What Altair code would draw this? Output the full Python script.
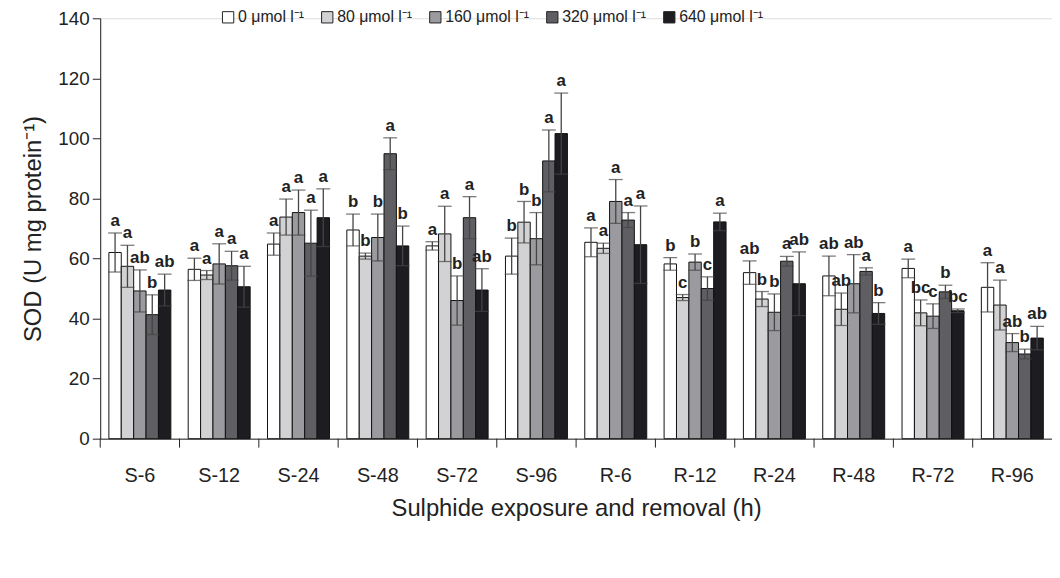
import altair as alt
import pandas as pd

groups = ["S-6", "S-12", "S-24", "S-48", "S-72", "S-96",
          "R-6", "R-12", "R-24", "R-48", "R-72", "R-96"]
series = ["0 μmol l⁻¹", "80 μmol l⁻¹", "160 μmol l⁻¹", "320 μmol l⁻¹", "640 μmol l⁻¹"]
colors = ["#ffffff", "#d2d2d4", "#9b9a9f", "#5f5e63", "#1d1d21"]

mean_0 = [62.0, 56.4, 64.8, 69.5, 64.2, 60.8, 65.4, 58.2, 55.3, 54.2, 56.7, 50.4]
mean_80 = [57.4, 54.5, 73.8, 60.8, 68.2, 72.1, 63.4, 47.0, 46.5, 43.1, 41.9, 44.5]
mean_160 = [49.2, 58.2, 75.3, 67.0, 46.0, 66.6, 79.0, 58.8, 42.1, 51.6, 40.8, 32.0]
mean_320 = [41.3, 57.6, 65.1, 94.9, 73.6, 92.5, 72.8, 50.0, 59.1, 55.7, 48.9, 28.2]
mean_640 = [49.5, 50.6, 73.6, 64.2, 49.5, 101.6, 64.6, 72.2, 51.6, 41.7, 42.6, 33.5]

err_0 = [6.5, 3.7, 3.7, 5.3, 1.4, 6.0, 4.8, 2.1, 3.9, 6.6, 3.1, 8.2]
err_80 = [7.0, 1.5, 6.0, 1.0, 9.2, 6.9, 1.7, 1.0, 2.5, 5.4, 4.3, 8.3]
err_160 = [7.0, 6.7, 7.5, 7.8, 8.2, 8.7, 7.3, 2.7, 6.1, 9.7, 4.1, 3.0]
err_320 = [6.6, 4.8, 11.0, 5.3, 7.0, 10.3, 2.5, 3.9, 1.6, 1.2, 2.2, 1.6]
err_640 = [5.3, 6.8, 9.6, 6.6, 7.1, 13.5, 12.9, 2.9, 10.6, 3.6, 0.6, 3.9]

let_0 = ["a", "a", "a", "b", "a", "b", "a", "b", "ab", "ab", "a", "a"]
let_80 = ["a", "a", "a", "b", "a", "b", "a", "c", "b", "ab", "bc", "a"]
let_160 = ["ab", "a", "a", "b", "b", "b", "a", "b", "b", "ab", "c", "ab"]
let_320 = ["b", "a", "a", "a", "a", "a", "a", "c", "a", "a", "b", "b"]
let_640 = ["ab", "a", "a", "b", "ab", "a", "a", "a", "ab", "b", "bc", "ab"]

means = [mean_0, mean_80, mean_160, mean_320, mean_640]
errs = [err_0, err_80, err_160, err_320, err_640]
lets = [let_0, let_80, let_160, let_320, let_640]

rows = []
for s, m, e, l in zip(series, means, errs, lets):
    for gi, g in enumerate(groups):
        rows.append(dict(group=g, series=s, mean=m[gi], lo=m[gi] - e[gi],
                         hi=m[gi] + e[gi], letter=l[gi]))
df = pd.DataFrame(rows)
gdf = pd.DataFrame({"group": groups})

FONT = "Liberation Sans"

x_axis = alt.Axis(title="Sulphide exposure and removal (h)", labelAngle=0, ticks=False,
                  labelPadding=27, labelFontSize=20, titleFontSize=24,
                  titleFontWeight="normal", titlePadding=11, domainColor="#222",
                  labelColor="#222", titleColor="#222")
x_enc = alt.X("group:N", sort=groups, scale=alt.Scale(paddingInner=0, paddingOuter=0),
              axis=x_axis)
xoff = alt.XOffset("series:N", sort=series, scale=alt.Scale(paddingInner=0, paddingOuter=0.7))
y_enc = alt.Y("mean:Q", scale=alt.Scale(domain=[0, 140], nice=False),
              axis=alt.Axis(values=list(range(0, 141, 20)), title="SOD (U mg protein⁻¹)",
                            grid=False, tickSize=8, labelFontSize=19, labelPadding=3,
                            titleFontSize=24, titleFontWeight="normal", titlePadding=13,
                            domainColor="#222", tickColor="#222", labelColor="#222",
                            titleColor="#222"))
color = alt.Color("series:N", sort=series, scale=alt.Scale(domain=series, range=colors),
                  legend=alt.Legend(title=None, orient="none", legendX=121, legendY=-9,
                                    direction="horizontal", symbolType="square",
                                    symbolSize=130, symbolStrokeColor="#222",
                                    symbolStrokeWidth=1, labelFontSize=16, labelOffset=2,
                                    columnPadding=15, labelColor="#222"))

base = alt.Chart(df)
bars = base.mark_bar(stroke="#111", strokeWidth=1).encode(x=x_enc, xOffset=xoff, y=y_enc, color=color)
errs_rule = base.mark_rule(color="#444", strokeWidth=1.3).encode(
    x=x_enc, xOffset=xoff, y="lo:Q", y2="hi:Q")
cap_hi = base.mark_tick(color="#444", size=14, thickness=1.3).encode(x=x_enc, xOffset=xoff, y="hi:Q")
cap_lo = base.mark_tick(color="#444", size=14, thickness=1.3).encode(x=x_enc, xOffset=xoff, y="lo:Q")
labels = base.mark_text(fontWeight="bold", fontSize=17, baseline="bottom", dy=-3,
                        color="#222").encode(x=x_enc, xOffset=xoff, y="hi:Q", text="letter:N")
bticks = alt.Chart(gdf).mark_rule(color="#222", strokeWidth=1).encode(
    x=alt.X("group:N", sort=groups, bandPosition=0),
    y=alt.value(424), y2=alt.value(433))

chart = alt.layer(bars, errs_rule, cap_hi, cap_lo, labels, bticks).properties(
    width=960, height=424,
    autosize=alt.AutoSizeParams(type="none"),
    padding={"left": 93, "top": 8, "right": 0, "bottom": 122},
).configure_view(stroke=None).configure(font=FONT)

chart.save("out.html", embed_options={"renderer": "svg", "actions": False})
